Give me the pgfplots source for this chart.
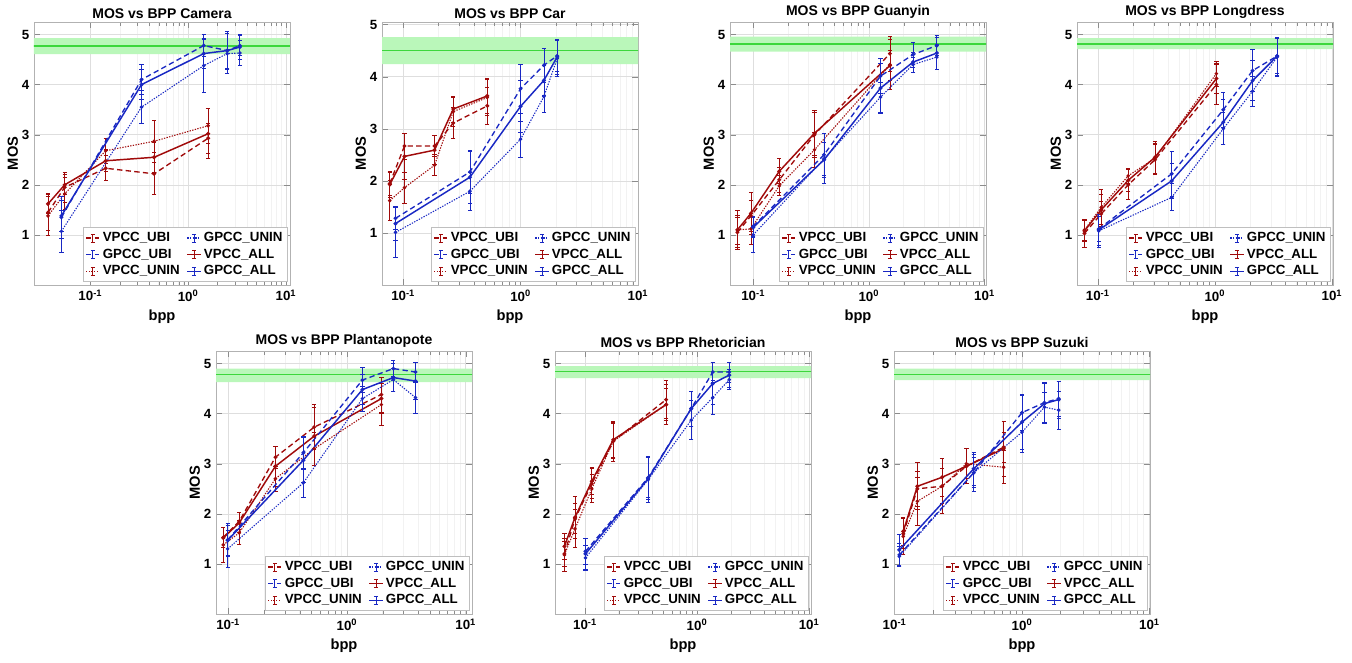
\documentclass[border=0pt]{standalone}
\usepackage{fontspec}
\setmainfont{Liberation Sans}
\usepackage{pgfplots}
\pgfplotsset{compat=1.18}

\definecolor{vred}{RGB}{160,10,10}
\definecolor{gblue}{RGB}{25,40,195}
\definecolor{bandg}{RGB}{186,247,186}
\definecolor{lineg}{RGB}{60,215,60}

\pgfplotsset{
  every error bar/.style={solid, line width=0.6pt},
  error bars/error mark options={rotate=90, mark size=1.6pt, line width=0.6pt, solid},
  ebar/.style={color=#1, mark=*, mark size=0.9pt, mark options={solid, draw=#1, fill=#1},
    error bars/y dir=both, error bars/y explicit, forget plot},
  vubi/.style={ebar=vred, line width=1pt, dash pattern=on 4pt off 2.5pt},
  vunin/.style={ebar=vred, line width=0.8pt, dash pattern=on 1pt off 1pt},
  vall/.style={ebar=vred, line width=1.1pt},
  gubi/.style={ebar=gblue, line width=1pt, dash pattern=on 4pt off 2.5pt},
  gunin/.style={ebar=gblue, line width=0.8pt, dash pattern=on 1pt off 1pt},
  gall/.style={ebar=gblue, line width=1.1pt},
  width=192pt, height=197.25pt, scale only axis,
  ymin=0, ymax=5.25,
  ytick={1,2,3,4,5}, xtick={0.1,1,10},
  xticklabels={10\textsuperscript{-1},10\textsuperscript{0},10\textsuperscript{1}},
  grid=both, minor y tick num=0,
  major grid style={draw=black!13}, minor grid style={draw=black!5},
  axis line style={draw=black!30}, tick style={draw=black!45},
  tick align=inside,
  ticklabel style={font=\bfseries\fontsize{10}{11}\selectfont},
  title style={font=\bfseries\fontsize{10.5}{12}\selectfont, yshift=-7pt},
  label style={font=\bfseries\fontsize{11}{12}\selectfont},
  ylabel shift=-4pt,
  xlabel={bpp}, ylabel={MOS},
  legend columns=2, legend cell align=left,
  legend style={at={(0.99,0.012)}, anchor=south east, draw=black!25, fill=white,
    font=\bfseries\fontsize{10}{13.5}\selectfont, inner xsep=1.5pt, inner ysep=1.5pt,
    /tikz/every even column/.append style={column sep=3pt}},
  legend image code/.code={
    \draw[#1] (0pt,0pt) -- (10pt,0pt);
    \draw[#1, solid, line width=0.6pt] (5pt,-3pt) -- (5pt,3pt) (3.5pt,3pt) -- (6.5pt,3pt) (3.5pt,-3pt) -- (6.5pt,-3pt);
  },
  /pgf/number format/assume math mode=true,
}
\newcommand{\ser}[2]{\addplot[#1] table[row sep=\\, y error index=2] {#2};}
\newcommand{\band}[3]{%
  \addplot[draw=none, fill=bandg, forget plot] coordinates {(0.001,#1) (1000,#1) (1000,#3) (0.001,#3) (0.001,#1)};
  \addplot[lineg, line width=1pt, forget plot] coordinates {(0.001,#2) (1000,#2)};}
\newcommand{\leg}{%
  \addlegendimage{draw=vred, line width=1pt, dash pattern=on 4pt off 2.5pt}\addlegendentry{VPCC\_UBI}
  \addlegendimage{draw=gblue, line width=0.8pt, dash pattern=on 1pt off 1pt}\addlegendentry{GPCC\_UNIN}
  \addlegendimage{draw=gblue, line width=1pt, dash pattern=on 4pt off 2.5pt}\addlegendentry{GPCC\_UBI}
  \addlegendimage{draw=vred, line width=1.1pt}\addlegendentry{VPCC\_ALL}
  \addlegendimage{draw=vred, line width=0.8pt, dash pattern=on 1pt off 1pt}\addlegendentry{VPCC\_UNIN}
  \addlegendimage{draw=gblue, line width=1.1pt}\addlegendentry{GPCC\_ALL}}

\begin{document}
\begin{tikzpicture}
\path[use as bounding box] (0,0) rectangle (1014pt,-496.5pt);

% Camera
\begin{semilogxaxis}[anchor=north west, at={(25.5pt,-16.5pt)}, title={MOS vs BPP Camera}, xmin=0.0265, xmax=11]
\band{4.61}{4.77}{4.93}
\ser{vunin}{0.0369 1.38 0.38\\ 0.0546 1.82 0.32\\ 0.1436 2.68 0.25\\ 0.449 2.87 0.42\\ 1.60 3.18 0.35\\}
\ser{vubi}{0.0369 1.45 0.35\\ 0.0546 1.95 0.30\\ 0.1436 2.33 0.25\\ 0.449 2.22 0.42\\ 1.60 2.93 0.30\\}
\ser{vall}{0.0369 1.62 0.20\\ 0.0546 2.00 0.20\\ 0.1436 2.48 0.22\\ 0.449 2.55 0.30\\ 1.60 3.02 0.50\\}
\ser{gunin}{0.0505 1.07 0.42\\ 0.333 3.55 0.33\\ 1.445 4.38 0.53\\ 2.51 4.62 0.40\\ 3.38 4.63 0.25\\}
\ser{gubi}{0.0505 1.35 0.42\\ 0.333 4.10 0.30\\ 1.445 4.78 0.22\\ 2.51 4.68 0.35\\ 3.38 4.78 0.20\\}
\ser{gall}{0.0505 1.38 0.30\\ 0.333 4.00 0.30\\ 1.445 4.62 0.30\\ 2.51 4.68 0.38\\ 3.38 4.75 0.25\\}
\leg
\end{semilogxaxis}

% Car
\begin{semilogxaxis}[anchor=north west, at={(286.5pt,-16.5pt)}, title={MOS vs BPP Car}, xmin=0.066, xmax=10, ymax=5.05]
\band{4.24}{4.50}{4.76}
\ser{vunin}{0.0769 1.62 0.38\\ 0.1026 1.87 0.30\\ 0.185 2.30 0.20\\ 0.267 3.33 0.28\\ 0.52 3.60 0.35\\}
\ser{vubi}{0.0769 1.95 0.22\\ 0.1026 2.67 0.25\\ 0.185 2.67 0.20\\ 0.267 3.11 0.30\\ 0.52 3.44 0.35\\}
\ser{vall}{0.0769 1.93 0.25\\ 0.1026 2.47 0.45\\ 0.185 2.59 0.28\\ 0.267 3.38 0.25\\ 0.52 3.63 0.33\\}
\ser{gunin}{0.086 1.01 0.48\\ 0.37 1.80 0.37\\ 1.0 2.80 0.35\\ 1.58 3.62 0.30\\ 2.05 4.35 0.35\\}
\ser{gubi}{0.086 1.28 0.22\\ 0.37 2.17 0.42\\ 1.0 3.77 0.47\\ 1.58 4.22 0.33\\ 2.05 4.40 0.30\\}
\ser{gall}{0.086 1.18 0.32\\ 0.37 2.07 0.50\\ 1.0 3.43 0.50\\ 1.58 3.93 0.28\\ 2.05 4.38 0.33\\}
\leg
\end{semilogxaxis}

% Guanyin
\begin{semilogxaxis}[anchor=north west, at={(547.5pt,-16.5pt)}, title={MOS vs BPP Guanyin}, xmin=0.063, xmax=10.3]
\band{4.66}{4.81}{4.96}
\ser{vunin}{0.073 1.10 0.38\\ 0.0955 1.12 0.30\\ 0.168 1.98 0.20\\ 0.339 2.70 0.35\\ 1.52 4.40 0.50\\}
\ser{vubi}{0.073 1.05 0.30\\ 0.0955 1.38 0.30\\ 0.168 2.10 0.25\\ 0.339 3.00 0.45\\ 1.52 4.62 0.35\\}
\ser{vall}{0.073 1.10 0.28\\ 0.0955 1.43 0.42\\ 0.168 2.27 0.25\\ 0.339 3.03 0.45\\ 1.52 4.38 0.30\\}
\ser{gunin}{0.1 1.00 0.35\\ 0.41 2.52 0.50\\ 1.26 3.75 0.30\\ 2.41 4.40 0.15\\ 3.87 4.55 0.25\\}
\ser{gubi}{0.1 1.17 0.20\\ 0.41 2.60 0.42\\ 1.26 4.17 0.35\\ 2.41 4.60 0.25\\ 3.87 4.78 0.20\\}
\ser{gall}{0.1 1.15 0.20\\ 0.41 2.50 0.35\\ 1.26 3.93 0.50\\ 2.41 4.45 0.20\\ 3.87 4.63 0.32\\}
\leg
\end{semilogxaxis}

% Longdress
\begin{semilogxaxis}[anchor=north west, at={(807.75pt,-16.5pt)}, title={MOS vs BPP Longdress}, xmin=0.0665, xmax=10.2]
\band{4.71}{4.81}{4.93}
\ser{vunin}{0.077 1.10 0.20\\ 0.107 1.55 0.35\\ 0.182 2.18 0.15\\ 0.308 2.53 0.30\\ 1.03 4.22 0.25\\}
\ser{vubi}{0.077 1.03 0.28\\ 0.107 1.42 0.25\\ 0.182 2.00 0.30\\ 0.308 2.50 0.30\\ 1.03 4.00 0.40\\}
\ser{vall}{0.077 1.08 0.20\\ 0.107 1.50 0.30\\ 0.182 2.09 0.22\\ 0.308 2.55 0.32\\ 1.03 4.12 0.30\\}
\ser{gunin}{0.102 1.08 0.32\\ 0.428 1.75 0.27\\ 1.18 3.12 0.32\\ 2.1 3.87 0.30\\ 3.4 4.55 0.38\\}
\ser{gubi}{0.102 1.12 0.25\\ 0.428 2.22 0.45\\ 1.18 3.50 0.35\\ 2.1 4.28 0.42\\ 3.4 4.57 0.38\\}
\ser{gall}{0.102 1.10 0.30\\ 0.428 2.08 0.35\\ 1.18 3.25 0.45\\ 2.1 4.08 0.40\\ 3.4 4.57 0.35\\}
\leg
\end{semilogxaxis}

% Plantanopote
\begin{semilogxaxis}[anchor=north west, at={(162pt,-263.25pt)}, title={MOS vs BPP Plantanopote}, xmin=0.079, xmax=11.3]
\band{4.63}{4.78}{4.90}
\ser{vunin}{0.091 1.38 0.35\\ 0.124 1.62 0.24\\ 0.25 2.70 0.25\\ 0.53 3.30 0.33\\ 1.95 4.18 0.42\\}
\ser{vubi}{0.091 1.53 0.20\\ 0.124 1.85 0.17\\ 0.25 3.13 0.22\\ 0.53 3.73 0.45\\ 1.95 4.38 0.35\\}
\ser{vall}{0.091 1.52 0.20\\ 0.124 1.82 0.20\\ 0.25 2.95 0.40\\ 0.53 3.55 0.58\\ 1.95 4.30 0.30\\}
\ser{gunin}{0.099 1.30 0.37\\ 0.43 2.62 0.29\\ 1.35 4.30 0.25\\ 2.46 4.68 0.23\\ 3.78 4.32 0.32\\}
\ser{gubi}{0.099 1.48 0.32\\ 0.43 3.22 0.33\\ 1.35 4.67 0.25\\ 2.46 4.90 0.16\\ 3.78 4.83 0.20\\}
\ser{gall}{0.099 1.47 0.30\\ 0.43 3.07 0.45\\ 1.35 4.48 0.30\\ 2.46 4.72 0.28\\ 3.78 4.65 0.37\\}
\leg
\end{semilogxaxis}

% Rhetorician
\begin{semilogxaxis}[anchor=north west, at={(416.25pt,-263.25pt)}, title={MOS vs BPP Rhetorician}, xmin=0.054, xmax=10.4]
\band{4.71}{4.84}{4.95}
\ser{vunin}{0.0655 1.18 0.33\\ 0.0815 1.70 0.38\\ 0.115 2.50 0.28\\ 0.179 3.45 0.40\\ 0.53 4.18 0.32\\}
\ser{vubi}{0.0655 1.20 0.25\\ 0.0815 1.90 0.30\\ 0.115 2.60 0.30\\ 0.179 3.45 0.35\\ 0.53 4.28 0.38\\}
\ser{vall}{0.0655 1.35 0.25\\ 0.0815 1.93 0.42\\ 0.115 2.65 0.27\\ 0.179 3.48 0.35\\ 0.53 4.18 0.40\\}
\ser{gunin}{0.101 1.12 0.24\\ 0.366 2.68 0.46\\ 0.887 3.87 0.39\\ 1.38 4.32 0.34\\ 1.94 4.68 0.20\\}
\ser{gubi}{0.101 1.25 0.25\\ 0.366 2.72 0.40\\ 0.887 4.10 0.35\\ 1.38 4.83 0.20\\ 1.94 4.83 0.20\\}
\ser{gall}{0.101 1.20 0.30\\ 0.366 2.70 0.42\\ 0.887 4.10 0.35\\ 1.38 4.60 0.42\\ 1.94 4.77 0.25\\}
\leg
\end{semilogxaxis}

% Suzuki
\begin{semilogxaxis}[anchor=north west, at={(670.5pt,-263.25pt)}, title={MOS vs BPP Suzuki}, xmin=0.099, xmax=10.1]
\band{4.67}{4.78}{4.90}
\ser{vunin}{0.117 1.55 0.35\\ 0.151 2.25 0.48\\ 0.236 2.55 0.55\\ 0.366 3.00 0.30\\ 0.718 2.93 0.33\\}
\ser{vubi}{0.117 1.60 0.30\\ 0.151 2.50 0.35\\ 0.236 2.55 0.35\\ 0.366 2.95 0.35\\ 0.718 3.33 0.30\\}
\ser{vall}{0.117 1.65 0.28\\ 0.151 2.55 0.47\\ 0.236 2.73 0.38\\ 0.366 2.95 0.35\\ 0.718 3.30 0.55\\}
\ser{gunin}{0.109 1.15 0.20\\ 0.418 2.82 0.30\\ 1.0 3.63 0.40\\ 1.50 4.13 0.30\\ 1.94 4.07 0.38\\}
\ser{gubi}{0.109 1.18 0.22\\ 0.418 2.82 0.37\\ 1.0 4.02 0.35\\ 1.50 4.22 0.40\\ 1.94 4.30 0.35\\}
\ser{gall}{0.109 1.28 0.30\\ 0.418 2.90 0.33\\ 1.0 3.83 0.55\\ 1.50 4.20 0.40\\ 1.94 4.28 0.37\\}
\leg
\end{semilogxaxis}
\end{tikzpicture}
\end{document}
